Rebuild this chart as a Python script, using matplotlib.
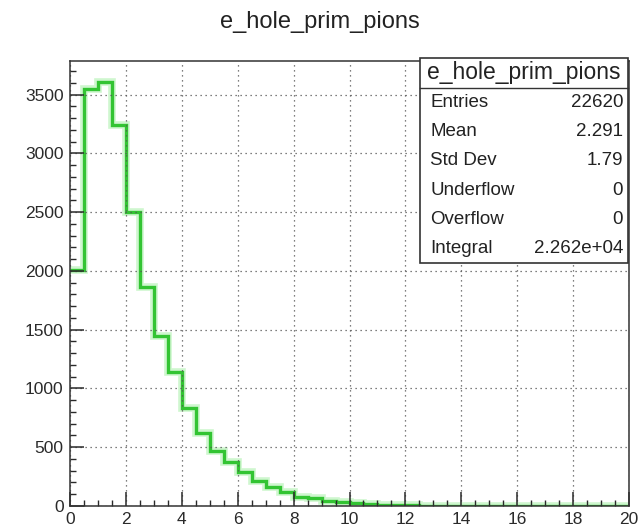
import matplotlib
matplotlib.use("Agg")
import matplotlib.pyplot as plt
import numpy as np
from matplotlib.patches import Rectangle
from matplotlib.ticker import MultipleLocator

plt.rcParams['font.family'] = ['Liberation Sans', 'DejaVu Sans']

title = "e_hole_prim_pions"
x_min, x_max = 0, 20
n_bins = 40
counts = [2010, 3550, 3605, 3240, 2500, 1865, 1450, 1140, 830, 620,
          470, 375, 290, 215, 160, 115, 78, 70, 45, 32,
          22, 16, 12, 8, 6, 4, 3, 2, 2, 1,
          1, 1, 0, 0, 0, 0, 0, 0, 0, 0]
stat_names = ["Entries", "Mean", "Std Dev", "Underflow", "Overflow", "Integral"]
stat_values = ["22620", "2.291", "1.79", "0", "0", "2.262e+04"]

W, H = 641, 529
fig = plt.figure(figsize=(W / 100, H / 100), dpi=100)


def px(x, y):
    # pixel coords (from top-left) -> figure fraction
    return x / W, 1 - y / H


ax_l, ax_r, ax_t, ax_b = 70, 629, 61, 506
ax = fig.add_axes([ax_l / W, 1 - ax_b / H, (ax_r - ax_l) / W, (ax_b - ax_t) / H])

edges = np.linspace(x_min, x_max, n_bins + 1)
ax.stairs(counts, edges, color="#a8f0a8", lw=5.5, alpha=0.55, baseline=None)
ax.stairs(counts, edges, color="#33c433", lw=2.4, baseline=None)

ax.set_xlim(x_min, x_max)
ax.set_ylim(0, max(counts) * 1.05)

ax.xaxis.set_major_locator(MultipleLocator(2))
ax.xaxis.set_minor_locator(MultipleLocator(0.5))
ax.yaxis.set_major_locator(MultipleLocator(500))
ax.yaxis.set_minor_locator(MultipleLocator(100))
ax.tick_params(which="both", direction="in", top=False, right=False,
               labelsize=12.5, colors="#2a2a2a")
ax.tick_params(which="major", length=10, width=1.1)
ax.tick_params(which="minor", length=4.5, width=1.0)
ax.tick_params(axis="y", pad=4.5)
ax.tick_params(axis="x", pad=4)
ax.grid(True, which="major", ls=(0, (1, 3)), color="#555555", lw=0.9)
for s in ax.spines.values():
    s.set_color("#333333")
    s.set_linewidth(1.1)

fig.text(*px(320, 22), title, ha="center", va="center", fontsize=17, color="#222222")

# stats box
bx0, by0, bx1, by1 = 420, 58, 628, 263
x0, y1f = px(bx0, by0)
x1, y0f = px(bx1, by1)
fig.add_artist(Rectangle((x0, y0f), x1 - x0, y1f - y0f, transform=fig.transFigure,
                         facecolor="white", edgecolor="#333333", lw=1.2, zorder=5))
sep = 88
fig.add_artist(plt.Line2D([x0, x1], [1 - sep / H] * 2, transform=fig.transFigure,
                          color="#333333", lw=1.0, zorder=6))
fig.text(*px((bx0 + bx1) / 2, 73), title, ha="center", va="center",
         fontsize=16.5, color="#222222", zorder=7)
row_h = (by1 - sep) / len(stat_names)
for i, (name, val) in enumerate(zip(stat_names, stat_values)):
    yc = sep + row_h * (i + 0.5)
    fig.text(*px(430, yc), name, ha="left", va="center", fontsize=13.5,
             color="#222222", zorder=7)
    fig.text(*px(623, yc), val, ha="right", va="center", fontsize=13.5,
             color="#222222", zorder=7)

fig.savefig("out.png", dpi=100)
